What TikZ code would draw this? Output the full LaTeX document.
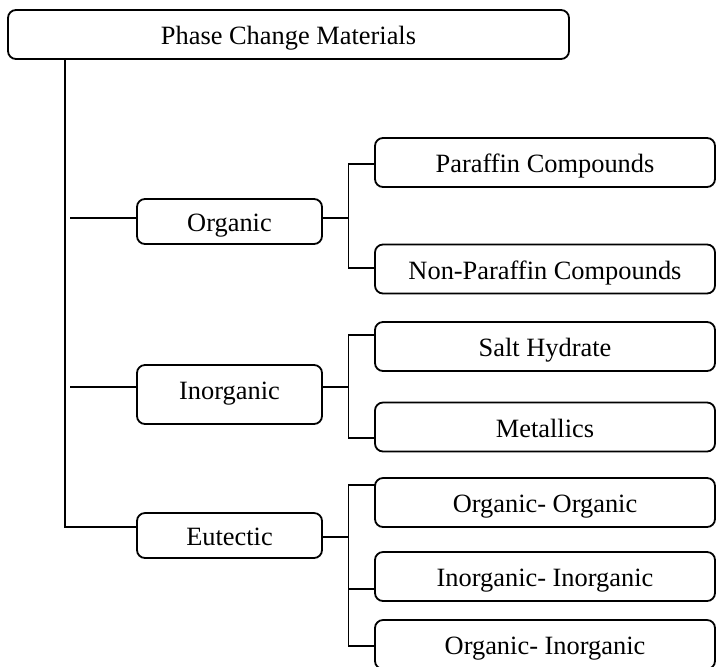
\documentclass[tikz,border=0pt]{standalone}
\usepackage{fontspec}
\setmainfont{Liberation Serif}
\usetikzlibrary{calc}

\begin{document}
\begin{tikzpicture}[x=0.5pt, y=-0.5pt, line width=0.9pt,
  box/.style={draw, rounded corners=4pt, inner sep=0pt, outer sep=0pt,
    text height=1.05em, text depth=0.05em, font=\fontsize{13.2}{15}\selectfont},
  rootbox/.style={box, minimum width=280.5pt, minimum height=24.5pt},
  classbox/.style={box, minimum width=92.5pt, minimum height=22.5pt},
  leafbox/.style={box, minimum width=170pt, minimum height=24.5pt}]
\useasboundingbox (0,0) rectangle (716,666);

\node [rootbox] (pcm) at (288.5,34.5) {Phase Change Materials};

\node [classbox] (org) at (229.5,221.5) {Organic};
\node [classbox, minimum height=29.5pt, text height=1.6ex, text depth=0.5ex] (inorg) at (229.5,394.5) {Inorganic};
\node [classbox] (eut) at (229.5,535.5) {Eutectic};

\node [leafbox] (par) at (545,162.5) {Paraffin Compounds};
\node [leafbox] (nonpar) at (545,269) {Non-Paraffin Compounds};
\node [leafbox] (salt) at (545,346.5) {Salt Hydrate};
\node [leafbox] (met) at (545,427) {Metallics};
\node [leafbox] (oo) at (545,502.5) {Organic- Organic};
\node [leafbox] (ii) at (545,576.5) {Inorganic- Inorganic};
\node [leafbox] (oi) at (545,644.5) {Organic- Inorganic};

% trunk
\coordinate (t0) at ([shift={(57,0)}]pcm.south west);
\coordinate (orgL) at ([shift={(0,-3.5)}]org.west);
\coordinate (inorgL) at ([shift={(0,-7.5)}]inorg.west);
\coordinate (eutL) at ([shift={(0,-8.5)}]eut.west);
\draw (t0) |- (eutL);
\draw ($(t0 |- orgL)+(5,0)$) -- (orgL);
\draw ($(t0 |- inorgL)+(5,0)$) -- (inorgL);

% brackets
\begin{scope}
\coordinate (orgR) at ([shift={(0,-3.5)}]org.east);
\coordinate (orgB) at ([shift={(26.5,0)}]orgR);
\draw (orgR) -- (orgB);
\draw ([shift={(0,1.5)}]par.west) -| (orgB) |- ([shift={(0,-1)}]nonpar.west);

\coordinate (inorgR) at ([shift={(0,-7.5)}]inorg.east);
\coordinate (inorgB) at ([shift={(26.5,0)}]inorgR);
\draw (inorgR) -- (inorgB);
\draw ([shift={(0,-11.5)}]salt.west) -| (inorgB) |- ([shift={(0,11)}]met.west);

\coordinate (eutR) at ([shift={(0,1.5)}]eut.east);
\coordinate (eutB) at ([shift={(26.5,0)}]eutR);
\coordinate (iiL) at ([shift={(0,12.5)}]ii.west);
\draw (eutR) -- (eutB);
\draw ([shift={(0,-17.5)}]oo.west) -| (eutB) |- ([shift={(0,1.5)}]oi.west);
\draw (iiL) -- (iiL -| eutB);
\end{scope}
\end{tikzpicture}
\end{document}
